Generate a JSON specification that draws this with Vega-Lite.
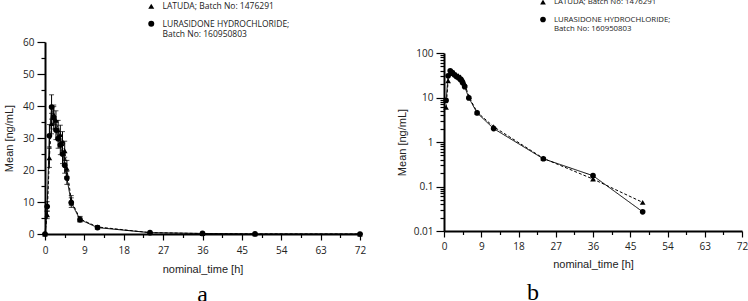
{
  "$schema": "https://vega.github.io/schema/vega-lite/v6.json",
  "background": "white",
  "padding": {"left": 3, "top": -2, "right": 0, "bottom": 0},
  "config": {
    "view": {"stroke": null},
    "axis": {
      "grid": false,
      "domainColor": "black",
      "domainWidth": 2,
      "tickColor": "black",
      "tickWidth": 1.2,
      "labelFont": "Open Sans",
      "labelFontSize": 10,
      "labelColor": "#222",
      "titleFont": "Liberation Sans",
      "titleFontSize": 11,
      "titleFontWeight": "normal",
      "titleColor": "#222"
    }
  },
  "datasets": {
    "pk": [
      {"series": "LATUDA; Batch No: 1476291", "time": 0, "mean": 0, "sd": 0},
      {"series": "LATUDA; Batch No: 1476291", "time": 0.5, "mean": 6, "sd": 1.2},
      {"series": "LATUDA; Batch No: 1476291", "time": 1, "mean": 23.8, "sd": 3},
      {"series": "LATUDA; Batch No: 1476291", "time": 1.5, "mean": 34.5, "sd": 3.2},
      {"series": "LATUDA; Batch No: 1476291", "time": 2, "mean": 37.3, "sd": 3},
      {"series": "LATUDA; Batch No: 1476291", "time": 2.5, "mean": 35.5, "sd": 3},
      {"series": "LATUDA; Batch No: 1476291", "time": 3, "mean": 32.5, "sd": 3},
      {"series": "LATUDA; Batch No: 1476291", "time": 3.5, "mean": 31, "sd": 3},
      {"series": "LATUDA; Batch No: 1476291", "time": 4, "mean": 29, "sd": 3},
      {"series": "LATUDA; Batch No: 1476291", "time": 4.5, "mean": 26, "sd": 3},
      {"series": "LATUDA; Batch No: 1476291", "time": 5, "mean": 20.5, "sd": 2.5},
      {"series": "LATUDA; Batch No: 1476291", "time": 6, "mean": 10.5, "sd": 1.5},
      {"series": "LATUDA; Batch No: 1476291", "time": 8, "mean": 4.7, "sd": 0.8},
      {"series": "LATUDA; Batch No: 1476291", "time": 12, "mean": 2.2, "sd": 0.4},
      {"series": "LATUDA; Batch No: 1476291", "time": 24, "mean": 0.43, "sd": 0.1},
      {"series": "LATUDA; Batch No: 1476291", "time": 36, "mean": 0.147, "sd": 0.05},
      {"series": "LATUDA; Batch No: 1476291", "time": 48, "mean": 0.044, "sd": 0.02},
      {"series": "LATUDA; Batch No: 1476291", "time": 72, "mean": 0, "sd": 0},
      {"series": "LURASIDONE HYDROCHLORIDE; Batch No: 160950803", "time": 0, "mean": 0, "sd": 0},
      {"series": "LURASIDONE HYDROCHLORIDE; Batch No: 160950803", "time": 0.5, "mean": 8.6, "sd": 1.5},
      {"series": "LURASIDONE HYDROCHLORIDE; Batch No: 160950803", "time": 1, "mean": 30.7, "sd": 3.5},
      {"series": "LURASIDONE HYDROCHLORIDE; Batch No: 160950803", "time": 1.5, "mean": 39.7, "sd": 3.8},
      {"series": "LURASIDONE HYDROCHLORIDE; Batch No: 160950803", "time": 2, "mean": 36.3, "sd": 3.5},
      {"series": "LURASIDONE HYDROCHLORIDE; Batch No: 160950803", "time": 2.5, "mean": 32.5, "sd": 3},
      {"series": "LURASIDONE HYDROCHLORIDE; Batch No: 160950803", "time": 3, "mean": 29.8, "sd": 3},
      {"series": "LURASIDONE HYDROCHLORIDE; Batch No: 160950803", "time": 3.5, "mean": 27.8, "sd": 3},
      {"series": "LURASIDONE HYDROCHLORIDE; Batch No: 160950803", "time": 4, "mean": 25, "sd": 3},
      {"series": "LURASIDONE HYDROCHLORIDE; Batch No: 160950803", "time": 4.5, "mean": 21.5, "sd": 2.5},
      {"series": "LURASIDONE HYDROCHLORIDE; Batch No: 160950803", "time": 5, "mean": 17.5, "sd": 2},
      {"series": "LURASIDONE HYDROCHLORIDE; Batch No: 160950803", "time": 6, "mean": 9.8, "sd": 1.5},
      {"series": "LURASIDONE HYDROCHLORIDE; Batch No: 160950803", "time": 8, "mean": 4.5, "sd": 0.8},
      {"series": "LURASIDONE HYDROCHLORIDE; Batch No: 160950803", "time": 12, "mean": 2.0, "sd": 0.4},
      {"series": "LURASIDONE HYDROCHLORIDE; Batch No: 160950803", "time": 24, "mean": 0.42, "sd": 0.1},
      {"series": "LURASIDONE HYDROCHLORIDE; Batch No: 160950803", "time": 36, "mean": 0.175, "sd": 0.05},
      {"series": "LURASIDONE HYDROCHLORIDE; Batch No: 160950803", "time": 48, "mean": 0.027, "sd": 0.01},
      {"series": "LURASIDONE HYDROCHLORIDE; Batch No: 160950803", "time": 72, "mean": 0, "sd": 0}
    ]
  },
  "spacing": 30,
  "resolve": {
    "scale": {"y": "independent", "shape": "independent"},
    "legend": {"shape": "independent"}
  },
  "hconcat": [
    {
      "width": 315,
      "height": 192,
      "data": {"name": "pk"},
      "title": {"text": "a", "orient": "bottom", "font": "Liberation Serif", "fontSize": 24, "fontWeight": "normal", "color": "black", "offset": 9},
      "encoding": {
        "x": {
          "field": "time", "type": "quantitative", "title": "nominal_time [h]",
          "scale": {"domain": [0, 72], "nice": false},
          "axis": {
            "values": [0, 4.5, 9, 13.5, 18, 22.5, 27, 31.5, 36, 40.5, 45, 49.5, 54, 58.5, 63, 67.5, 72],
            "labelExpr": "datum.value % 9 === 0 ? datum.label : ''",
            "tickSize": {"condition": {"test": "datum.value % 9 === 0", "value": 6}, "value": 3.5},
            "labelPadding": 5, "titlePadding": 8, "labelFlush": false
          }
        },
        "y": {
          "field": "mean", "type": "quantitative", "title": "Mean [ng/mL]",
          "scale": {"domain": [0, 60], "nice": false},
          "axis": {
            "values": [0, 5, 10, 15, 20, 25, 30, 35, 40, 45, 50, 55, 60],
            "labelExpr": "datum.value % 10 === 0 ? datum.label : ''",
            "tickSize": {"condition": {"test": "datum.value % 10 === 0", "value": 8}, "value": 4},
            "labelPadding": 3, "titlePadding": 8
          }
        }
      },
      "layer": [
        {
          "mark": {"type": "errorbar", "ticks": true, "color": "black"},
          "encoding": {"yError": {"field": "sd"}}
        },
        {
          "mark": {"type": "line", "color": "black", "strokeWidth": 1},
          "encoding": {
            "detail": {"field": "series", "type": "nominal"},
            "strokeDash": {"condition": {"test": "datum.series === 'LATUDA; Batch No: 1476291'", "value": [3, 2]}, "value": [1, 0]}
          }
        },
        {
          "mark": {"type": "point", "filled": true, "color": "black", "size": 32, "opacity": 1},
          "encoding": {
            "shape": {"field": "series", "type": "nominal",
              "scale": {"domain": ["LATUDA; Batch No: 1476291", "LURASIDONE HYDROCHLORIDE; Batch No: 160950803"], "range": ["triangle-up", "circle"]},
              "legend": {
                "orient": "none", "legendX": 102, "legendY": -40, "title": null,
                "labelFont": "Open Sans", "labelFontSize": 8.5, "labelColor": "#222",
                "symbolSize": 36, "labelOffset": 7, "rowPadding": 5.5, "labelLimit": 400,
                "labelExpr": "datum.value === 'LURASIDONE HYDROCHLORIDE; Batch No: 160950803' ? ['LURASIDONE HYDROCHLORIDE;', 'Batch No: 160950803'] : datum.label",
                "encode": {
                  "labels": {"update": {
                    "lineHeight": {"value": 11.3},
                    "dy": {"signal": "datum.value === 'LURASIDONE HYDROCHLORIDE; Batch No: 160950803' ? -5.65 : 0"}
                  }}
                }
              }
            }
          }
        }
      ]
    },
    {
      "spacing": 5,
      "vconcat": [
        {
          "width": 298,
          "height": 1,
          "data": {"values": []},
          "mark": "point"
        },
        {
          "width": 298,
          "height": 178,
          "data": {"name": "pk"},
          "transform": [{"filter": "datum.mean > 0"}],
          "title": {"text": "b", "orient": "bottom", "font": "Liberation Serif", "fontSize": 24, "fontWeight": "normal", "color": "black", "offset": 12, "dx": -60},
          "encoding": {
            "x": {
              "field": "time", "type": "quantitative", "title": "nominal_time [h]",
              "scale": {"domain": [0, 72], "nice": false},
              "axis": {
                "values": [0, 4.5, 9, 13.5, 18, 22.5, 27, 31.5, 36, 40.5, 45, 49.5, 54, 58.5, 63, 67.5, 72],
                "labelExpr": "datum.value % 9 === 0 ? datum.label : ''",
                "tickSize": {"condition": {"test": "datum.value % 9 === 0", "value": 6}, "value": 3.5},
                "labelPadding": 4, "titlePadding": 7, "labelFlush": false
              }
            },
            "y": {
              "field": "mean", "type": "quantitative", "title": "Mean [ng/mL]",
              "scale": {"type": "log", "domain": [0.01, 100], "nice": false},
              "axis": {
                "values": [0.01, 0.02, 0.03, 0.04, 0.05, 0.06, 0.07, 0.08, 0.09, 0.1, 0.2, 0.3, 0.4, 0.5, 0.6, 0.7, 0.8, 0.9, 1, 2, 3, 4, 5, 6, 7, 8, 9, 10, 20, 30, 40, 50, 60, 70, 80, 90, 100],
                "format": "~g",
                "labelExpr": "abs(log(datum.value)/LN10 - round(log(datum.value)/LN10)) < 0.001 ? datum.label : ''",
                "tickSize": {"condition": {"test": "abs(log(datum.value)/LN10 - round(log(datum.value)/LN10)) < 0.001", "value": 8}, "value": 4},
                "labelPadding": 3, "titlePadding": 6
              }
            }
          },
          "layer": [
            {
              "mark": {"type": "line", "color": "black", "strokeWidth": 1},
              "encoding": {
                "detail": {"field": "series", "type": "nominal"},
                "strokeDash": {"condition": {"test": "datum.series === 'LATUDA; Batch No: 1476291'", "value": [3, 2]}, "value": [1, 0]}
              }
            },
            {
              "mark": {"type": "point", "filled": true, "color": "black", "size": 32, "opacity": 1},
              "encoding": {
                "shape": {"field": "series", "type": "nominal",
                  "scale": {"domain": ["LATUDA; Batch No: 1476291", "LURASIDONE HYDROCHLORIDE; Batch No: 160950803"], "range": ["triangle-up", "circle"]},
                  "legend": {
                    "orient": "none", "legendX": 95, "legendY": -44, "title": null,
                    "labelFont": "Open Sans", "labelFontSize": 7.8, "labelColor": "#222",
                    "symbolSize": 32, "labelOffset": 7, "rowPadding": 5.5, "labelLimit": 400,
                    "labelExpr": "datum.value === 'LURASIDONE HYDROCHLORIDE; Batch No: 160950803' ? ['LURASIDONE HYDROCHLORIDE;', 'Batch No: 160950803'] : datum.label",
                    "encode": {
                      "labels": {"update": {
                        "lineHeight": {"value": 12.5},
                        "dy": {"signal": "datum.value === 'LURASIDONE HYDROCHLORIDE; Batch No: 160950803' ? -6.25 : 0"}
                      }}
                    }
                  }
                }
              }
            }
          ]
        }
      ]
    }
  ]
}
